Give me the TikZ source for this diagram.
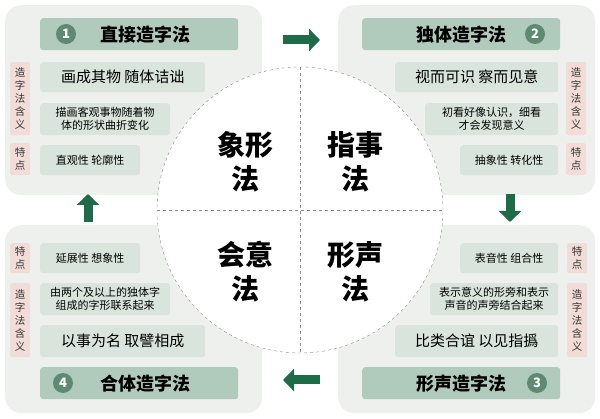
\documentclass[tikz,border=0pt]{standalone}
\usepackage{fontspec}
\setmainfont{Noto Sans CJK SC}
\usetikzlibrary{arrows.meta,positioning}
\definecolor{panelgray}{RGB}{238,240,238}
\definecolor{titlegreen}{RGB}{176,202,188}
\definecolor{boxgreen}{RGB}{216,228,220}
\definecolor{tagpink}{RGB}{242,220,216}
\definecolor{darkgreen}{RGB}{30,107,74}
\definecolor{numgreen}{RGB}{94,138,114}
\begin{document}
\begin{tikzpicture}
[ x=1pt, y=-1pt,
panel/.style={rectangle, fill=panelgray, rounded corners=16pt, anchor=north west, inner sep=0pt},
title/.style={rectangle, fill=titlegreen, rounded corners=3pt, anchor=north west,
 minimum width=198pt, minimum height=32pt, font=\bfseries\fontsize{18}{20}\selectfont},
content/.style={rectangle, fill=boxgreen, rounded corners=3pt, anchor=north west,
 align=center, inner sep=2pt, font=\fontsize{11}{13}\selectfont},
big/.style={content, font=\fontsize{15}{17}\selectfont},
tag/.style={rectangle, fill=tagpink, rounded corners=2pt, anchor=north west,
 minimum width=20pt, align=center, inner sep=1pt, font=\fontsize{10.5}{13}\selectfont, text=black!80},
num/.style={circle, fill=numgreen, text=white, minimum size=20pt, inner sep=0pt,
 font=\bfseries\fontsize{13}{13}\selectfont},
quad/.style={align=center, font=\bfseries\fontsize{28}{34}\selectfont},
bigarrow/.style={darkgreen, line width=9pt, -{Triangle[length=11pt,width=22pt]}},
]
\useasboundingbox (0,0) rectangle (600,419);
% panels
\node (pTL) [panel, minimum width=257pt, minimum height=190pt] at (5,5) {};
\node (pTR) [panel, minimum width=257pt, minimum height=190pt] at (338,5) {};
\node (pBL) [panel, minimum width=257pt, minimum height=188pt] at (5,225) {};
\node (pBR) [panel, minimum width=257pt, minimum height=188pt] at (338,225) {};

% top left
\node (tTL) [title] at (40,18) {\hspace{12pt}直接造字法};
\node (nTL) [num] at (66,34) {1};
\node (aTL) [big, minimum width=165pt, minimum height=30pt] at (40,62) {画成其物 随体诘诎};
\node (bTL) [content, minimum width=130pt, minimum height=32pt] at (40,103) {描画客观事物随着物\\体的形状曲折变化};
\node (cTL) [content, minimum width=100pt, minimum height=30pt] at (40,145) {直观性 轮廓性};
\node (gTL) [tag, minimum height=73pt] at (10,62) {造\\字\\法\\含\\义};
\node (fTL) [tag, minimum height=32pt] at (10,143) {特\\点};

% top right
\node (tTR) [title] at (362,18) {独体造字法\hspace{12pt}};
\node (nTR) [num] at (535,34) {2};
\node (aTR) [big, minimum width=163pt, minimum height=30pt] at (395,62) {视而可识 察而见意};
\node (bTR) [content, minimum width=133pt, minimum height=32pt] at (425,103) {初看好像认识，细看\\才会发现意义};
\node (cTR) [content, minimum width=98pt, minimum height=30pt] at (460,145) {抽象性 转化性};
\node (gTR) [tag, minimum height=73pt] at (566,62) {造\\字\\法\\含\\义};
\node (fTR) [tag, minimum height=32pt] at (566,143) {特\\点};

% bottom right
\node (tBR) [title] at (362,367) {形声造字法\hspace{12pt}};
\node (nBR) [num] at (537,383) {3};
\node (aBR) [big, minimum width=163pt, minimum height=32pt] at (395,325) {比类合谊 以见指撝};
\node (bBR) [content, minimum width=128pt, minimum height=32pt] at (430,283) {表示意义的形旁和表示\\声音的声旁结合起来};
\node (cBR) [content, minimum width=98pt, minimum height=30pt] at (460,243) {表音性 组合性};
\node (gBR) [tag, minimum height=74pt] at (567,283) {造\\字\\法\\含\\义};
\node (fBR) [tag, minimum height=30pt] at (567,243) {特\\点};

% bottom left
\node (tBL) [title] at (40,367) {\hspace{12pt}合体造字法};
\node (nBL) [num] at (63,383) {4};
\node (aBL) [big, minimum width=165pt, minimum height=32pt] at (40,325) {以事为名 取譬相成};
\node (bBL) [content, minimum width=130pt, minimum height=32pt] at (40,283) {由两个及以上的独体字\\组成的字形联系起来};
\node (cBL) [content, minimum width=100pt, minimum height=30pt] at (40,243) {延展性 想象性};
\node (gBL) [tag, minimum height=74pt] at (10,283) {造\\字\\法\\含\\义};
\node (fBL) [tag, minimum height=30pt] at (10,243) {特\\点};

% circle
\node (core) [circle, fill=white, draw=black!45, dashed, minimum size=286pt] at (300,210) {};
\draw [black!45, dashed] (core.north) -- (core.south);
\draw [black!45, dashed] (core.west) -- (core.east);
\node (xx) [quad] at (245,162) {象形\\法};
\node (zs) [quad] at (355,162) {指事\\法};
\node (hy) [quad] at (245,272) {会意\\法};
\node (xs) [quad] at (355,272) {形声\\法};

% arrows
\coordinate (r1) at (283,40); \coordinate (r2) at (320,40);
\coordinate (d1) at (510,194); \coordinate (d2) at (510,222);
\coordinate (l1) at (320,380); \coordinate (l2) at (283,380);
\coordinate (u1) at (88,222); \coordinate (u2) at (88,194);
\draw [bigarrow] (r1) -- (r2);
\draw [bigarrow] (d1) -- (d2);
\draw [bigarrow] (l1) -- (l2);
\draw [bigarrow] (u1) -- (u2);
\end{tikzpicture}
\end{document}
